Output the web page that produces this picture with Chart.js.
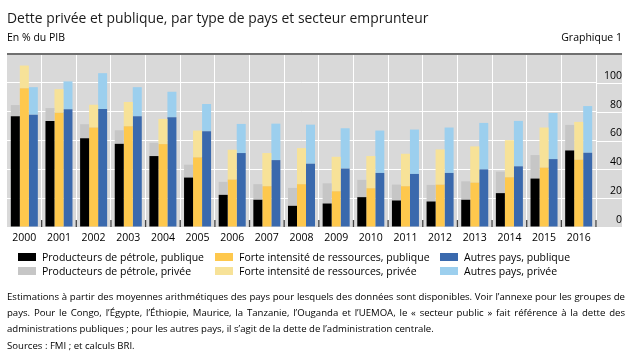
<!DOCTYPE html>
<html>
<head>
<meta charset="utf-8">
<script src="https://cdn.jsdelivr.net/npm/chart.js@4.4.0/dist/chart.umd.min.js"></script>
<style>
    body { margin: 0; width: 634px; height: 358px; position: relative; overflow: hidden; background: #fff; font-family: "Open Sans", "Noto Sans", sans-serif; color: #000; }
    #chart { position: absolute; left: 0; top: 0; }
    .title { position: absolute; left: 7px; top: 8px; font-size: 13.9px; color: #1a1a1a; white-space: nowrap; }
    .sub { position: absolute; top: 30px; font-size: 10.5px; white-space: nowrap; }
    #legend { position: absolute; left: 18px; top: 250px; display: grid; grid-template-columns: 197px 225px 170px; row-gap: 0px; font-size: 10.5px; }
    #legend div { display: flex; align-items: center; height: 14px; white-space: nowrap; }
    #legend span { display: inline-block; width: 18px; height: 8px; margin-right: 6px; }
    .note { position: absolute; left: 7px; top: 289px; width: 618px; font-size: 9.6px; line-height: 16px; text-align: justify; }
    .src { position: absolute; left: 7px; top: 339px; font-size: 9.6px; }
</style>
</head>
<body>
<canvas id="chart" width="634" height="358"></canvas>
<div class="title">Dette privée et publique, par type de pays et secteur emprunteur</div>
<div class="sub" style="left:7px">En % du PIB</div>
<div class="sub" style="right:12px">Graphique 1</div>
<div id="legend"></div>
<div class="note">Estimations à partir des moyennes arithmétiques des pays pour lesquels des données sont disponibles. Voir l’annexe pour les groupes de pays. Pour le Congo, l’Égypte, l’Éthiopie, Maurice, la Tanzanie, l’Ouganda et l’UEMOA, le « secteur public » fait référence à la dette des administrations publiques ; pour les autres pays, il s’agit de la dette de l’administration centrale.</div>
<div class="src">Sources : FMI ; et calculs BRI.</div>
<script>
const years = ['2000', '2001', '2002', '2003', '2004', '2005', '2006', '2007', '2008',
    '2009', '2010', '2011', '2012', '2013', '2014', '2015', '2016'];
const yTicks = [0, 20, 40, 60, 80, 100];

// dette publique (bas de la barre) et privée (empilée dessus), en % du PIB
const oilPublic = [76.8, 73.6, 61.6, 57.7, 49.2, 34.3, 22.3, 18.9, 14.7, 16.3, 20.7, 18.4, 17.7, 18.9, 23.5, 33.6, 53.1];
const oilPrivate = [7.8, 8.9, 9.7, 9.4, 9.2, 8.9, 9.0, 10.8, 12.4, 14.0, 12.0, 11.0, 11.5, 12.8, 14.9, 16.3, 17.7];
const resPublic = [96.3, 79.3, 69.0, 69.9, 57.5, 48.3, 32.9, 28.3, 29.7, 24.8, 26.9, 28.3, 29.4, 30.8, 34.5, 41.2, 46.7];
const resPrivate = [15.7, 16.3, 15.8, 16.8, 17.5, 18.6, 20.7, 23.0, 25.0, 23.9, 22.3, 22.5, 24.4, 25.1, 25.7, 27.8, 26.2];
const otherPublic = [77.9, 81.6, 81.8, 76.8, 76.1, 66.4, 51.3, 46.4, 43.9, 40.5, 37.5, 36.8, 37.5, 40.0, 42.1, 47.1, 51.5];
const otherPrivate = [19.1, 19.4, 24.9, 20.2, 17.7, 18.9, 20.2, 25.3, 27.1, 28.0, 29.4, 30.8, 31.5, 32.2, 31.5, 32.0, 32.4];

const series = [
    { label: 'Producteurs de pétrole, publique', data: oilPublic, color: '#000000', stack: 'oil' },
    { label: 'Producteurs de pétrole, privée', data: oilPrivate, color: '#c6c6c6', stack: 'oil' },
    { label: 'Forte intensité de ressources, publique', data: resPublic, color: '#fec84d', stack: 'res' },
    { label: 'Forte intensité de ressources, privée', data: resPrivate, color: '#f7e298', stack: 'res' },
    { label: 'Autres pays, publique', data: otherPublic, color: '#3a69ad', stack: 'other' },
    { label: 'Autres pays, privée', data: otherPrivate, color: '#9ccfee', stack: 'other' }
];

// fond gris, prolongement des lignes sous les libellés, filet du haut, petits traits en bas
const panel = {
    id: 'panel',
    beforeDraw(chart) {
        const { ctx, chartArea: a, scales: { y } } = chart;
        ctx.save();
        ctx.fillStyle = '#d9d9d9';
        ctx.fillRect(a.left, a.top, y.right - a.left, a.bottom - a.top);
        ctx.restore();
    },
    beforeDatasetsDraw(chart) {
        const { ctx, chartArea: a, scales: { y } } = chart;
        ctx.save();
        ctx.strokeStyle = '#ffffff';
        ctx.lineWidth = 1;
        yTicks.forEach(v => {
            const py = Math.round(y.getPixelForValue(v)) + 0.5;
            ctx.beginPath();
            ctx.moveTo(a.right, py);
            ctx.lineTo(y.right, py);
            ctx.stroke();
        });
        ctx.restore();
    },
    afterDatasetsDraw(chart) {
        const { ctx, chartArea: a, scales: { y } } = chart;
        ctx.save();
        ctx.strokeStyle = '#707070';
        ctx.lineWidth = 2;
        ctx.beginPath();
        ctx.moveTo(a.left, a.top);
        ctx.lineTo(y.right, a.top);
        ctx.stroke();
        ctx.strokeStyle = '#444444';
        ctx.lineWidth = 1.3;
        const step = (a.right - a.left) / years.length;
        for (let i = 1; i <= years.length; i++) {
            const px = a.left + i * step;
            ctx.beginPath();
            ctx.moveTo(px, a.bottom - 7);
            ctx.lineTo(px, a.bottom);
            ctx.stroke();
        }
        ctx.restore();
    }
};

const ctx = document.getElementById('chart').getContext('2d');
new Chart(ctx, {
    type: 'bar',
    data: {
        labels: years,
        datasets: series.map(s => ({
            label: s.label,
            data: s.data,
            backgroundColor: s.color,
            stack: s.stack,
            borderWidth: 0,
            categoryPercentage: 0.78,
            barPercentage: 1.0
        }))
    },
    options: {
        responsive: false,
        animation: false,
        events: [],
        layout: { padding: { left: 7, top: 54, right: 12, bottom: 111 } },
        plugins: { legend: { display: false }, tooltip: { enabled: false } },
        scales: {
            x: {
                stacked: true,
                grid: { color: '#ffffff', lineWidth: 1, drawTicks: false },
                border: { display: false },
                ticks: { color: '#000', padding: 5, font: { family: '"Open Sans", sans-serif', size: 10.5 } },
                afterFit: s => { s.height = 20; }
            },
            y: {
                stacked: true,
                position: 'right',
                min: 0,
                max: 120,
                grid: {
                    color: c => (c.tick && c.tick.value === 120) ? 'rgba(0,0,0,0)' : '#ffffff',
                    lineWidth: 1,
                    drawTicks: false
                },
                border: { display: false },
                ticks: {
                    stepSize: 20,
                    callback: v => yTicks.includes(v) ? v : '',
                    color: '#000',
                    crossAlign: 'far',
                    padding: 9,
                    labelOffset: -7,
                    font: { family: '"Open Sans", sans-serif', size: 10.5 }
                },
                afterFit: s => { s.width = 26; }
            }
        }
    },
    plugins: [panel]
});

// légende en grille 3 colonnes x 2 lignes
const legend = document.getElementById('legend');
[0, 2, 4, 1, 3, 5].forEach(i => {
    const item = document.createElement('div');
    const box = document.createElement('span');
    box.style.background = series[i].color;
    item.appendChild(box);
    item.appendChild(document.createTextNode(series[i].label));
    legend.appendChild(item);
});
</script>
</body>
</html>
